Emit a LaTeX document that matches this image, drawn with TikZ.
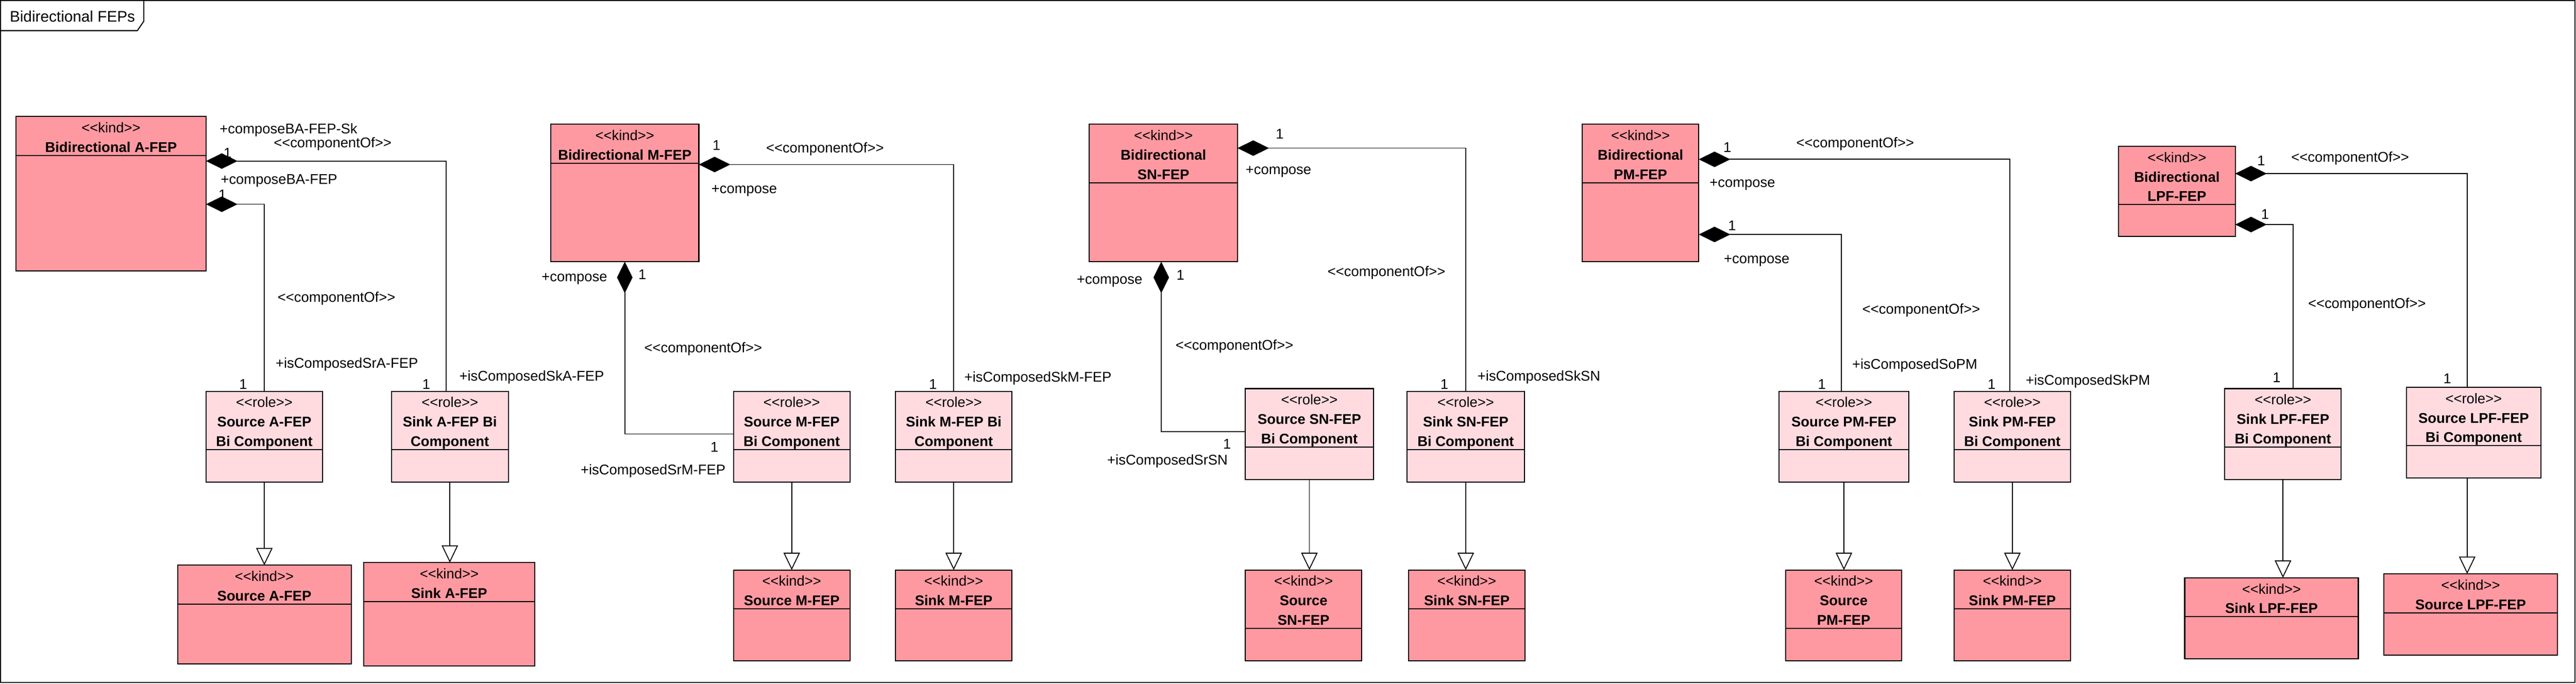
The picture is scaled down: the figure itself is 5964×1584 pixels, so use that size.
\documentclass[tikz,border=0pt]{standalone}
\usepackage{fontspec}
\setmainfont{Liberation Sans}
\usetikzlibrary{arrows.meta,fit}

\begin{document}
\begin{tikzpicture}[x=0.1mm,y=-0.1mm,
    kind/.style={draw, line width=0.7pt, fill=r255g153b161, inner sep=0pt, outer sep=0pt},
    role/.style={kind, fill=r255g219b224},
    divider/.style={line width=0.7pt},
    hdr/.style={anchor=north, yshift=-1.3mm, inner sep=0pt, align=center, font=\fontsize{9.3}{12.8}\selectfont},
    lbl/.style={anchor=base, yshift=-1.2mm, inner sep=0pt, font=\fontsize{9.3}{11}\selectfont},
    compose/.style={line width=0.6pt, {Diamond[length=7.3mm,width=3.6mm]}-},
    realize/.style={line width=0.6pt, -{Triangle[open,fill=white,length=4mm,width=3.8mm]}}]

% Changing color 255 153 161
\definecolor{r255g153b161}{rgb}{1.000000,0.600000,0.631373}%
% Changing color 255 219 224
\definecolor{r255g219b224}{rgb}{1.000000,0.858824,0.878431}%

\useasboundingbox (0,0) rectangle (5964,1584);

% Drawing frame Bidirectional FEPs
\draw [line width=0.7pt] (1,1) rectangle (5961,1581);
\draw [line width=0.7pt] (1,71) -- (318,71) -- (333,49) -- (333,1);
\node [anchor=west, inner sep=0pt, font=\fontsize{10.1}{12}\selectfont] (title) at (22,38) {Bidirectional FEPs};

% ---------------- A-FEP ----------------

% Drawing class Bidirectional A-FEP
\node [kind, fit={(37,270) (477,627)}] (afep) {};
\draw [divider] ([yshift=-9mm]afep.north west) -- ([yshift=-9mm]afep.north east);
\node [hdr] (afepT) at (afep.north) {<{}<kind>{}>\\\textbf{Bidirectional A-FEP}};

% Drawing class Source A-FEP Bi Component
\node [role, fit={(477,906) (747,1116)}] (srcAbi) {};
\draw [divider] ([yshift=-13.5mm]srcAbi.north west) -- ([yshift=-13.5mm]srcAbi.north east);
\node [hdr] (srcAbiT) at (srcAbi.north) {<{}<role>{}>\\\textbf{Source A-FEP}\\\textbf{Bi Component}};

% Drawing class Sink A-FEP Bi Component
\node [role, fit={(906,906) (1177,1116)}] (sinkAbi) {};
\draw [divider] ([yshift=-13.5mm]sinkAbi.north west) -- ([yshift=-13.5mm]sinkAbi.north east);
\node [hdr] (sinkAbiT) at (sinkAbi.north) {<{}<role>{}>\\\textbf{Sink A-FEP Bi}\\\textbf{Component}};

% Drawing class Source A-FEP
\node [kind, fit={(411,1309) (813,1538)}] (srcA) {};
\draw [divider] ([yshift=-9mm]srcA.north west) -- ([yshift=-9mm]srcA.north east);
\node [hdr] (srcAT) at (srcA.north) {<{}<kind>{}>\\\textbf{Source A-FEP}};

% Drawing class Sink A-FEP
\node [kind, fit={(842,1303) (1238,1542)}] (sinkA) {};
\draw [divider] ([yshift=-9mm]sinkA.north west) -- ([yshift=-9mm]sinkA.north east);
\node [hdr] (sinkAT) at (sinkA.north) {<{}<kind>{}>\\\textbf{Sink A-FEP}};

% Drawing composition A-FEP Sk
\draw [compose] (afep.east |- 0,373) -| ([xshift=-0.9mm]sinkAbi.north);
\node [lbl] (lA1) at (668,298) {+composeBA-FEP-Sk};
\node [lbl] (lA2) at (770,330) {<{}<componentOf>{}>};
\node [lbl] (lA3) at (527,354) {1};
\node [lbl] (lA4) at (1231,870) {+isComposedSkA-FEP};
\node [lbl] (lA5) at (987,889) {1};

% Drawing composition A-FEP Sr
\draw [compose] (afep.east |- 0,473) -| (srcAbi.north);
\node [lbl] (lA6) at (646,415) {+composeBA-FEP};
\node [lbl] (lA7) at (515,450) {1};
\node [lbl] (lA8) at (779,688) {<{}<componentOf>{}>};
\node [lbl] (lA9) at (803,840) {+isComposedSrA-FEP};
\node [lbl] (lA10) at (563,889) {1};

% Drawing generalizations A-FEP
\draw [realize] (srcAbi.south) -- (srcAbi.south |- srcA.north);
\draw [realize] (sinkAbi.south) -- (sinkAbi.south |- sinkA.north);

% ---------------- M-FEP ----------------

% Drawing class Bidirectional M-FEP
\node [kind, fit={(1275,288) (1618,606)}] (mfep) {};
\draw [divider] ([yshift=-9mm]mfep.north west) -- ([yshift=-9mm]mfep.north east);
\node [hdr] (mfepT) at (mfep.north) {<{}<kind>{}>\\\textbf{Bidirectional M-FEP}};

% Drawing class Source M-FEP Bi Component
\node [role, fit={(1698,906) (1968,1116)}] (srcMbi) {};
\draw [divider] ([yshift=-13.5mm]srcMbi.north west) -- ([yshift=-13.5mm]srcMbi.north east);
\node [hdr] (srcMbiT) at (srcMbi.north) {<{}<role>{}>\\\textbf{Source M-FEP}\\\textbf{Bi Component}};

% Drawing class Sink M-FEP Bi Component
\node [role, fit={(2073,906) (2343,1116)}] (sinkMbi) {};
\draw [divider] ([yshift=-13.5mm]sinkMbi.north west) -- ([yshift=-13.5mm]sinkMbi.north east);
\node [hdr] (sinkMbiT) at (sinkMbi.north) {<{}<role>{}>\\\textbf{Sink M-FEP Bi}\\\textbf{Component}};

% Drawing class Source M-FEP
\node [kind, fit={(1698,1320) (1968,1530)}] (srcM) {};
\draw [divider] ([yshift=-9mm]srcM.north west) -- ([yshift=-9mm]srcM.north east);
\node [hdr] (srcMT) at (srcM.north) {<{}<kind>{}>\\\textbf{Source M-FEP}};

% Drawing class Sink M-FEP
\node [kind, fit={(2073,1320) (2343,1530)}] (sinkM) {};
\draw [divider] ([yshift=-9mm]sinkM.north west) -- ([yshift=-9mm]sinkM.north east);
\node [hdr] (sinkMT) at (sinkM.north) {<{}<kind>{}>\\\textbf{Sink M-FEP}};

% Drawing composition M-FEP Sk
\draw [compose] (mfep.east |- 0,381) -| (sinkMbi.north);
\node [lbl] (lM1) at (1659,336) {1};
\node [lbl] (lM2) at (1910,342) {<{}<componentOf>{}>};
\node [lbl] (lM3) at (1723,436) {+compose};
\node [lbl] (lM4) at (2160,889) {1};
\node [lbl] (lM5) at (2403,873) {+isComposedSkM-FEP};

% Drawing composition M-FEP Sr
\draw [compose] (mfep.south) |- (srcMbi.west |- 0,1005);
\node [lbl] (lM6) at (1330,640) {+compose};
\node [lbl] (lM7) at (1487,635) {1};
\node [lbl] (lM8) at (1628,805) {<{}<componentOf>{}>};
\node [lbl] (lM9) at (1512,1087) {+isComposedSrM-FEP};
\node [lbl] (lM10) at (1654,1035) {1};

% Drawing generalizations M-FEP
\draw [realize] (srcMbi.south) -- (srcMbi.south |- srcM.north);
\draw [realize] (sinkMbi.south) -- (sinkMbi.south |- sinkM.north);

% ---------------- SN-FEP ----------------

% Drawing class Bidirectional SN-FEP
\node [kind, fit={(2522,288) (2865,606)}] (snfep) {};
\draw [divider] ([yshift=-13.5mm]snfep.north west) -- ([yshift=-13.5mm]snfep.north east);
\node [hdr] (snfepT) at (snfep.north) {<{}<kind>{}>\\\textbf{Bidirectional}\\\textbf{SN-FEP}};

% Drawing class Source SN-FEP Bi Component
\node [role, fit={(2883,900) (3180,1110)}] (srcSNbi) {};
\draw [divider] ([yshift=-13.5mm]srcSNbi.north west) -- ([yshift=-13.5mm]srcSNbi.north east);
\node [hdr] (srcSNbiT) at (srcSNbi.north) {<{}<role>{}>\\\textbf{Source SN-FEP}\\\textbf{Bi Component}};

% Drawing class Sink SN-FEP Bi Component
\node [role, fit={(3258,906) (3529,1116)}] (sinkSNbi) {};
\draw [divider] ([yshift=-13.5mm]sinkSNbi.north west) -- ([yshift=-13.5mm]sinkSNbi.north east);
\node [hdr] (sinkSNbiT) at (sinkSNbi.north) {<{}<role>{}>\\\textbf{Sink SN-FEP}\\\textbf{Bi Component}};

% Drawing class Source SN-FEP
\node [kind, fit={(2883,1320) (3153,1530)}] (srcSN) {};
\draw [divider] ([yshift=-13.5mm]srcSN.north west) -- ([yshift=-13.5mm]srcSN.north east);
\node [hdr] (srcSNT) at (srcSN.north) {<{}<kind>{}>\\\textbf{Source}\\\textbf{SN-FEP}};

% Drawing class Sink SN-FEP
\node [kind, fit={(3261,1320) (3531,1530)}] (sinkSN) {};
\draw [divider] ([yshift=-9mm]sinkSN.north west) -- ([yshift=-9mm]sinkSN.north east);
\node [hdr] (sinkSNT) at (sinkSN.north) {<{}<kind>{}>\\\textbf{Sink SN-FEP}};

% Drawing composition SN-FEP Sk
\draw [compose] (snfep.east |- 0,343) -| (sinkSNbi.north);
\node [lbl] (lSN1) at (2963,310) {1};
\node [lbl] (lSN2) at (2960,392) {+compose};
\node [lbl] (lSN3) at (3210,628) {<{}<componentOf>{}>};
\node [lbl] (lSN4) at (3344,889) {1};
\node [lbl] (lSN5) at (3563,870) {+isComposedSkSN};

% Drawing composition SN-FEP Sr
\draw [compose] ([xshift=-0.5mm]snfep.south) |- (srcSNbi.west |- 0,1000);
\node [lbl] (lSN6) at (2569,646) {+compose};
\node [lbl] (lSN7) at (2733,636) {1};
\node [lbl] (lSN8) at (2858,799) {<{}<componentOf>{}>};
\node [lbl] (lSN9) at (2703,1065) {+isComposedSrSN};
\node [lbl] (lSN10) at (2841,1027) {1};

% Drawing generalizations SN-FEP
\draw [realize] (srcSNbi.south) -- (srcSNbi.south |- srcSN.north);
\draw [realize] (sinkSNbi.south) -- (sinkSNbi.south |- sinkSN.north);

% ---------------- PM-FEP ----------------

% Drawing class Bidirectional PM-FEP
\node [kind, fit={(3663,288) (3933,606)}] (pmfep) {};
\draw [divider] ([yshift=-13.5mm]pmfep.north west) -- ([yshift=-13.5mm]pmfep.north east);
\node [hdr] (pmfepT) at (pmfep.north) {<{}<kind>{}>\\\textbf{Bidirectional}\\\textbf{PM-FEP}};

% Drawing class Source PM-FEP Bi Component
\node [role, fit={(4119,906) (4419,1116)}] (srcPMbi) {};
\draw [divider] ([yshift=-13.5mm]srcPMbi.north west) -- ([yshift=-13.5mm]srcPMbi.north east);
\node [hdr] (srcPMbiT) at (srcPMbi.north) {<{}<role>{}>\\\textbf{Source PM-FEP}\\\textbf{Bi Component}};

% Drawing class Sink PM-FEP Bi Component
\node [role, fit={(4524,906) (4794,1116)}] (sinkPMbi) {};
\draw [divider] ([yshift=-13.5mm]sinkPMbi.north west) -- ([yshift=-13.5mm]sinkPMbi.north east);
\node [hdr] (sinkPMbiT) at (sinkPMbi.north) {<{}<role>{}>\\\textbf{Sink PM-FEP}\\\textbf{Bi Component}};

% Drawing class Source PM-FEP
\node [kind, fit={(4134,1320) (4403,1530)}] (srcPM) {};
\draw [divider] ([yshift=-13.5mm]srcPM.north west) -- ([yshift=-13.5mm]srcPM.north east);
\node [hdr] (srcPMT) at (srcPM.north) {<{}<kind>{}>\\\textbf{Source}\\\textbf{PM-FEP}};

% Drawing class Sink PM-FEP
\node [kind, fit={(4524,1320) (4794,1530)}] (sinkPM) {};
\draw [divider] ([yshift=-9mm]sinkPM.north west) -- ([yshift=-9mm]sinkPM.north east);
\node [hdr] (sinkPMT) at (sinkPM.north) {<{}<kind>{}>\\\textbf{Sink PM-FEP}};

% Drawing composition PM-FEP Sk
\draw [compose] (pmfep.east |- 0,369) -| ([xshift=-0.6mm]sinkPMbi.north);
\node [lbl] (lPM1) at (3999,341) {1};
\node [lbl] (lPM2) at (4295,330) {<{}<componentOf>{}>};
\node [lbl] (lPM3) at (4034,421) {+compose};
\node [lbl] (lPM4) at (4611,889) {1};
\node [lbl] (lPM5) at (4834,880) {+isComposedSkPM};

% Drawing composition PM-FEP So
\draw [compose] (pmfep.east |- 0,543) -| ([xshift=-0.6mm]srcPMbi.north);
\node [lbl] (lPM6) at (4010,522) {1};
\node [lbl] (lPM7) at (4067,598) {+compose};
\node [lbl] (lPM8) at (4448,715) {<{}<componentOf>{}>};
\node [lbl] (lPM9) at (4433,843) {+isComposedSoPM};
\node [lbl] (lPM10) at (4218,889) {1};

% Drawing generalizations PM-FEP
\draw [realize] (srcPMbi.south) -- (srcPMbi.south |- srcPM.north);
\draw [realize] (sinkPMbi.south) -- (sinkPMbi.south |- sinkPM.north);

% ---------------- LPF-FEP ----------------

% Drawing class Bidirectional LPF-FEP
\node [kind, fit={(4905,339) (5175,548)}] (lpffep) {};
\draw [divider] ([yshift=-13.5mm]lpffep.north west) -- ([yshift=-13.5mm]lpffep.north east);
\node [hdr] (lpffepT) at (lpffep.north) {<{}<kind>{}>\\\textbf{Bidirectional}\\\textbf{LPF-FEP}};

% Drawing class Sink LPF-FEP Bi Component
\node [role, fit={(5151,900) (5420,1110)}] (sinkLPFbi) {};
\draw [divider] ([yshift=-13.5mm]sinkLPFbi.north west) -- ([yshift=-13.5mm]sinkLPFbi.north east);
\node [hdr] (sinkLPFbiT) at (sinkLPFbi.north) {<{}<role>{}>\\\textbf{Sink LPF-FEP}\\\textbf{Bi Component}};

% Drawing class Source LPF-FEP Bi Component
\node [role, fit={(5571,897) (5883,1107)}] (srcLPFbi) {};
\draw [divider] ([yshift=-13.5mm]srcLPFbi.north west) -- ([yshift=-13.5mm]srcLPFbi.north east);
\node [hdr] (srcLPFbiT) at (srcLPFbi.north) {<{}<role>{}>\\\textbf{Source LPF-FEP}\\\textbf{Bi Component}};

% Drawing class Sink LPF-FEP
\node [kind, fit={(5058,1338) (5460,1526)}] (sinkLPF) {};
\draw [divider] ([yshift=-9mm]sinkLPF.north west) -- ([yshift=-9mm]sinkLPF.north east);
\node [hdr] (sinkLPFT) at (sinkLPF.north) {<{}<kind>{}>\\\textbf{Sink LPF-FEP}};

% Drawing class Source LPF-FEP
\node [kind, fit={(5519,1329) (5921,1517)}] (srcLPF) {};
\draw [divider] ([yshift=-9mm]srcLPF.north west) -- ([yshift=-9mm]srcLPF.north east);
\node [hdr] (srcLPFT) at (srcLPF.north) {<{}<kind>{}>\\\textbf{Source LPF-FEP}};

% Drawing composition LPF-FEP So
\draw [compose] (lpffep.east |- 0,402) -| ([xshift=-1.5mm]srcLPFbi.north);
\node [lbl] (lLPF1) at (5235,372) {1};
\node [lbl] (lLPF2) at (5441,363) {<{}<componentOf>{}>};
\node [lbl] (lLPF3) at (5666,876) {1};

% Drawing composition LPF-FEP Sk
\draw [compose] (lpffep.east |- 0,520) -| ([xshift=2.4mm]sinkLPFbi.north);
\node [lbl] (lLPF4) at (5244,495) {1};
\node [lbl] (lLPF5) at (5480,702) {<{}<componentOf>{}>};
\node [lbl] (lLPF6) at (5271,874) {1};

% Drawing generalizations LPF-FEP
\draw [realize] (sinkLPFbi.south) -- (sinkLPFbi.south |- sinkLPF.north);
\draw [realize] ([xshift=-1.5mm]srcLPFbi.south) -- ([xshift=-1.5mm]srcLPFbi.south |- srcLPF.north);

\end{tikzpicture}
\end{document}
